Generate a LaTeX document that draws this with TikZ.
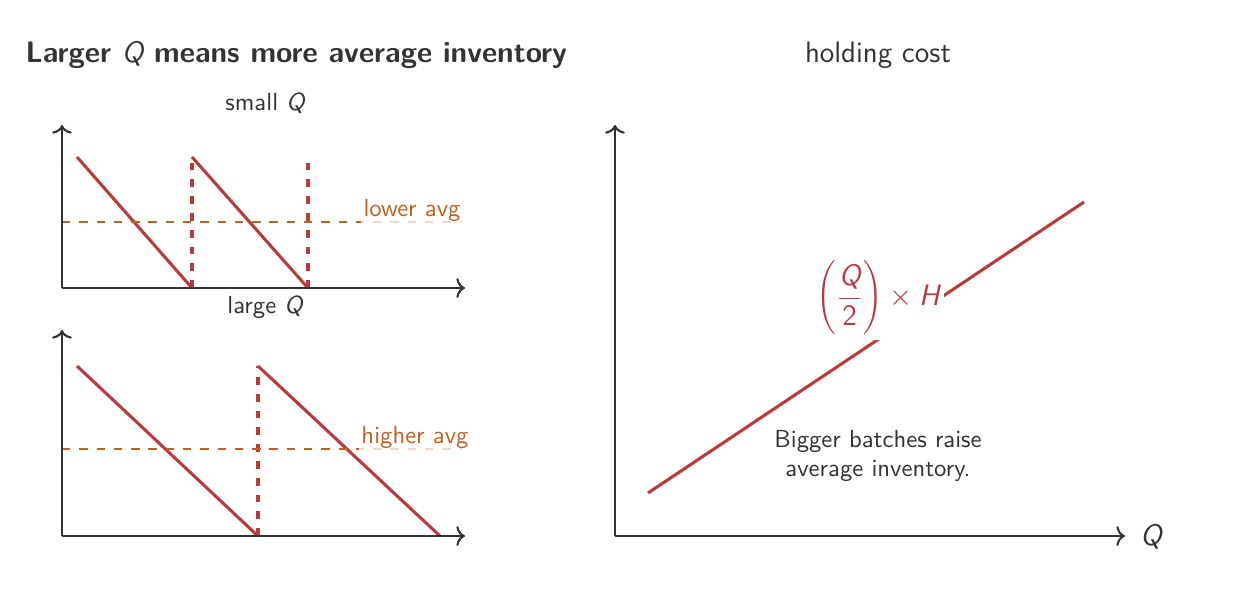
\documentclass[tikz,border=0pt]{standalone}
\usepackage{fontspec}
\renewcommand{\familydefault}{\sfdefault}
\usetikzlibrary{arrows.meta}
\definecolor{axisgray}{HTML}{333333}
\definecolor{sawred}{HTML}{B83C3C}
\definecolor{avgorange}{HTML}{BF6120}
\newcommand{\Qit}{\mbox{\mdseries\itshape Q}}
\newcommand{\Hit}{\mbox{\mdseries\itshape H}}
\tikzset{
  axis/.style={draw=axisgray, line width=0.85pt, -{To[length=3.5pt,width=8pt]}},
  saw/.style={draw=sawred, line width=1.25pt},
  reorder/.style={draw=sawred, line width=1.25pt, dash pattern=on 3.2pt off 3.6pt},
  avgline/.style={draw=avgorange, line width=0.95pt, dash pattern=on 3.4pt off 3.6pt},
  avglabel/.style={text=avgorange, fill=white, fill opacity=0.75, text opacity=1, inner sep=1pt},
  lbl/.style={text=axisgray}
}
\begin{document}
\begin{tikzpicture}[x=0.405pt, y=-0.405pt]
                \useasboundingbox (0,0) rectangle (1240,602);
                \node[lbl, anchor=west, font=\large\bfseries] (title) at (17,55) {Larger \Qit{} means more average inventory};

                % small Q
                \coordinate (o1) at (62,288);
                \coordinate (y1) at (62,125);
                \coordinate (x1) at (465,288);
                \coordinate (s1a) at (77,157);
                \coordinate (s1b) at (192,288);
                \coordinate (s1c) at (192,157);
                \coordinate (s1d) at (308,288);
                \coordinate (s1e) at (308,157);
                \coordinate (a1l) at (62,222);
                \coordinate (a1r) at (462,222);
                \node[lbl] (smallq) at (265,103) {small \Qit};
                \draw[saw] (s1a) -- (s1b);
                \draw[reorder] (s1b) -- (s1c);
                \draw[saw] (s1c) -- (s1d);
                \draw[reorder] (s1d) -- (s1e);
                \draw[avgline] (a1l) -- (a1r);
                \node[avglabel] (lowavg) at (412,210) {lower avg};
                \draw[axis] (o1) -- (y1);
                \draw[axis] (o1) -- (x1);

                % large Q
                \coordinate (o2) at (62,536);
                \coordinate (y2) at (62,330);
                \coordinate (x2) at (465,536);
                \coordinate (s2a) at (77,366);
                \coordinate (s2b) at (258,536);
                \coordinate (s2c) at (258,366);
                \coordinate (s2d) at (440,536);
                \coordinate (a2l) at (62,449);
                \coordinate (a2r) at (462,449);
                \node[lbl] (largeq) at (265,307) {large \Qit};
                \draw[saw] (s2a) -- (s2b);
                \draw[reorder] (s2b) -- (s2c);
                \draw[saw] (s2c) -- (s2d);
                \draw[avgline] (a2l) -- (a2r);
                \node[avglabel] (highavg) at (415,437) {higher avg};
                \draw[axis] (o2) -- (y2);
                \draw[axis] (o2) -- (x2);

                % holding cost
                \coordinate (o3) at (615,536);
                \coordinate (y3) at (615,125);
                \coordinate (x3) at (1125,536);
                \coordinate (c0) at (648,493);
                \coordinate (c1) at (1084,202);
                \node[lbl, font=\large] (costtitle) at (878,55) {holding cost};
                \node[lbl, font=\large] (qaxis) at (1151,537) {\Qit};
                \draw[saw] (c0) -- (c1);
                \node[fill=white, text=sawred, font=\large, inner sep=2pt] (formula) at (878,298) {$\displaystyle\left(\frac{\Qit}{\mbox{2}}\right)\times\Hit$};
                \node[lbl, align=center] (note) at (878,456) {Bigger batches raise\\average inventory.};
                \draw[axis] (o3) -- (y3);
                \draw[axis] (o3) -- (x3);
            \end{tikzpicture}
\end{document}
